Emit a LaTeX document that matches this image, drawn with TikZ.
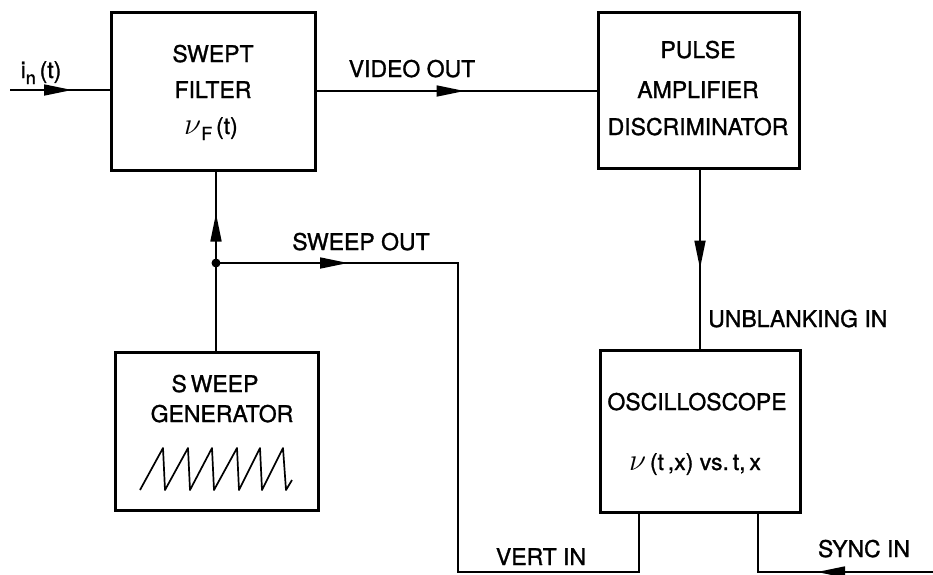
\documentclass[tikz,border=0pt]{standalone}
\usepackage{fontspec}
\setmainfont{TeX Gyre Heros}
\newfontfamily\lblfont{TeX Gyre Heros}[FakeBold=1.2]
\usetikzlibrary{arrows.meta,decorations.markings}
\tikzset{
  box/.style={draw, line width=3pt, rectangle, inner sep=0pt},
  conn/.style={draw, line width=1.7pt},
  arrowat/.style={postaction={decorate},
    decoration={markings, mark=at position #1pt with {\arrow{Triangle[length=28pt,width=11pt]}}}},
  lbl/.style={font=\lblfont\fontsize{23}{27}\selectfont, inner sep=0pt, anchor=base}
}
\newcommand{\lowsub}[1]{\raisebox{-6pt}{\fontsize{18}{18}\selectfont #1}}
\begin{document}
\begin{tikzpicture}[x=1pt,y=-1pt]
\useasboundingbox (0,0) rectangle (933,574);
% boxes
\node[box, minimum width=204pt, minimum height=158pt] (filter) at (213,91) {};
\node[box, minimum width=201pt, minimum height=156pt] (pulse) at (698.5,90) {};
\node[box, minimum width=203pt, minimum height=158pt] (gen) at (216.5,431) {};
\node[box, minimum width=200pt, minimum height=162pt] (osc) at (700,431) {};
% box texts
\node[lbl] (f1) at (213,62) {SWEPT};
\node[lbl] (f2) at (213,98) {FILTER};
\node[lbl] (f3) at (211,134) {\scalebox{1.25}{$\nu$}\lowsub{F}\,(t)};
\node[lbl] (p1) at (698,58) {PULSE};
\node[lbl] (p2) at (698,98) {AMPLIFIER};
\node[lbl] (p3) at (698,135) {DISCRIMINATOR};
\node[lbl] (g1) at (215,392) {S\,WEEP};
\node[lbl] (g2) at (222,422) {GENERATOR};
\node[lbl] (o1) at (697,410) {OSCILLOSCOPE};
\node[lbl] (o2) at (695,470) {\scalebox{1.25}{$\nu$}\,(t\,,x) vs.\,t,\,x};
% sawtooth
\draw[line width=1.7pt, line join=round] (140,490)
  -- (163,448) -- (165,490) -- (188,448) -- (190,490) -- (212,448) -- (214,490)
  -- (237,448) -- (239,490) -- (260,448) -- (262,490) -- (283,448) -- (286,490) -- (292,480);
% coordinates
\coordinate (inp) at (10,90);
\coordinate (j) at (216,263);
\coordinate (c1) at (458,263);
\coordinate (c2) at (458,572);
\coordinate (vin) at (639,0);
\coordinate (ub) at (700,0);
\coordinate (sy) at (758,0);
\coordinate (se) at (940,572);
% connectors
\draw[conn, arrowat=62] (inp) -- (inp -| filter.west);
\draw[conn, arrowat=148] (filter.east) -- (filter.east -| pulse.west);
\draw[conn, arrowat=99] (ub |- pulse.south) -- (ub |- osc.north);
\draw[conn, arrowat=137] (j |- gen.north) -- (j |- filter.south);
\draw[conn, arrowat=132] (j) -- (c1) -- (c2) -- (vin |- c2) -- (vin |- osc.south);
\draw[conn, arrowat=123] (se) -- (sy |- se) -- (sy |- osc.south);
\fill (j) circle (4.5pt);
% connector labels
\node[lbl] (lin) at (41,78) {i\lowsub{n}\,(t)};
\node[lbl] (lvid) at (412,77) {VIDEO OUT};
\node[lbl] (lsw) at (361,250) {SWEEP OUT};
\node[lbl, anchor=base west] (lub) at (708,327) {UNBLANKING IN};
\node[lbl] (lvert) at (541,565) {VERT IN};
\node[lbl] (lsync) at (864,557) {SYNC IN};
\end{tikzpicture}
\end{document}
